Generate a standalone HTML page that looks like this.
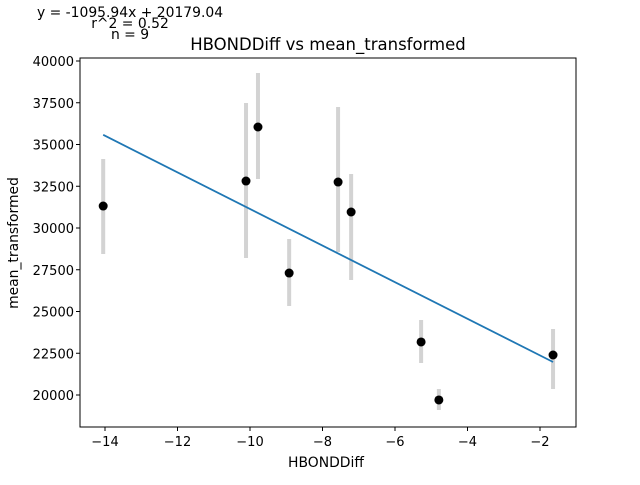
<!DOCTYPE html>
<html><head><meta charset="utf-8"><style>
body{margin:0;background:#fff;}
svg text{font-family:"DejaVu Sans","Liberation Sans",sans-serif;}
</style></head><body>
<svg id="c" width="640" height="480" xmlns="http://www.w3.org/2000/svg"></svg>
<script>
const xs=[-14.05,-10.11,-9.78,-8.92,-7.57,-7.21,-5.28,-4.79,-1.64];
const ys=[31317,32814,36048,27305,32754,30958,23174,19701,22395];
const errLo=[28440,28204,32934,25329,28563,26886,21916,19102,20359];
const errHi=[34130,37485,39281,29341,37246,33234,24491,20359,23952];
const xTicks=[-14,-12,-10,-8,-6,-4,-2];
const yTicks=[20000,22500,25000,27500,30000,32500,35000,37500,40000];
const slope=-1095.94, intercept=20179.04;
const L=80,R=576,T=58,B=427;
const X=v=>105+(v+14)*36.25;
const Y=v=>61+(40000-v)*334/20000;
const svg=document.getElementById('c');const NS='http://www.w3.org/2000/svg';
function mk(t,a,txt){const e=document.createElementNS(NS,t);for(const k in a)e.setAttribute(k,a[k]);if(txt!==undefined)e.textContent=txt;svg.appendChild(e);return e;}
xs.forEach((x,i)=>{const e=mk('line',{x1:X(x),x2:X(x),y1:Y(errLo[i]),y2:Y(errHi[i]),stroke:'#d3d3d3','stroke-width':4});

});
const xmin=Math.min(...xs),xmax=Math.max(...xs);
const ln=mk('line',{x1:X(xmin),y1:Y(slope*xmin+intercept),x2:X(xmax),y2:Y(slope*xmax+intercept),stroke:'#1f77b4','stroke-width':1.8});


xs.forEach((x,i)=>{const c=mk('circle',{cx:X(x),cy:Y(ys[i]),r:4.5,fill:'#000'});

});
const fr=mk('rect',{x:L,y:T,width:R-L,height:B-T,fill:'none',stroke:'#000','stroke-width':1});


xTicks.forEach(t=>{mk('line',{x1:X(t),x2:X(t),y1:B,y2:B+4,stroke:'#000'});
const tx=mk('text',{x:X(t),y:B+19,'text-anchor':'middle','font-size':13},'\u2212'+Math.abs(t));

});
yTicks.forEach(t=>{mk('line',{x1:L-4,x2:L,y1:Y(t),y2:Y(t),stroke:'#000'});
const tx=mk('text',{x:L-6,y:Y(t)+5,'text-anchor':'end','font-size':13},t);

});
const a=mk('text',{x:326,y:467,'text-anchor':'middle','font-size':13.9},'HBONDDiff');

const b=mk('text',{x:18,y:243,'text-anchor':'middle','font-size':13.9,transform:'rotate(-90 18 243)'},'mean_transformed');

const t=mk('text',{x:328,y:50,'text-anchor':'middle','font-size':16.5},'HBONDDiff vs mean_transformed');

[['y = -1095.94x + 20179.04',130,17],['r^2 = 0.52',130,28],['n = 9',130,39]].forEach(s=>{const e=mk('text',{x:s[1],y:s[2],'text-anchor':'middle','font-size':13.9},s[0]);

});
</script>
</body></html>
